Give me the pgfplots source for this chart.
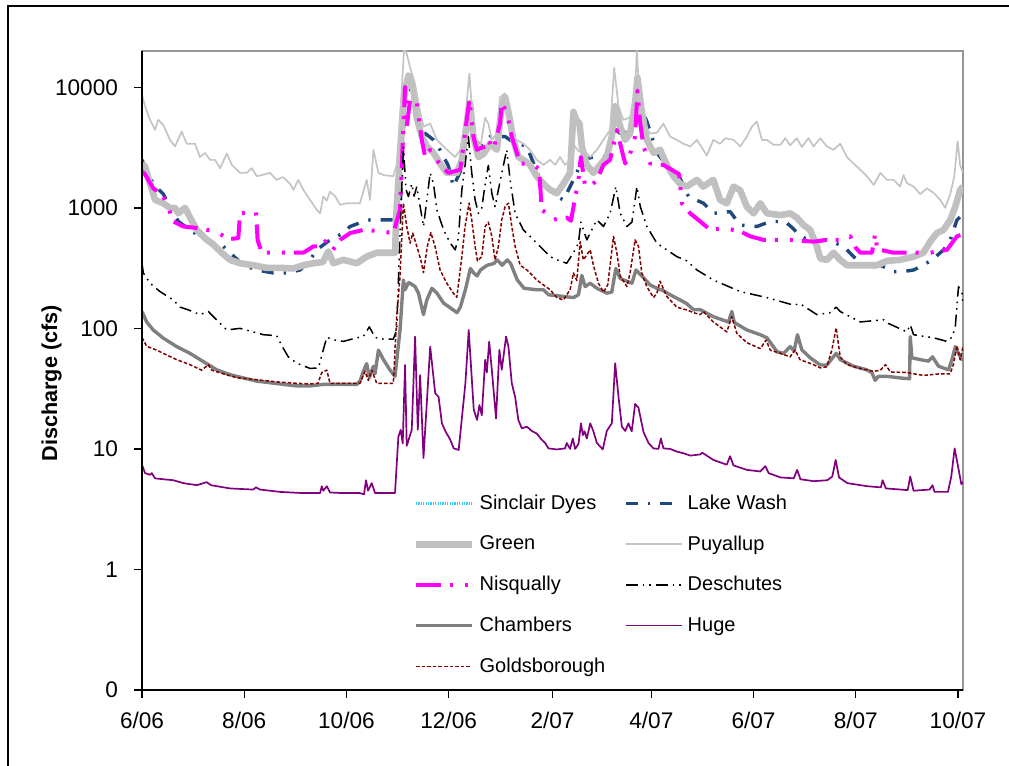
\documentclass[border=0pt]{standalone}
\usepackage{pgfplots}
\pgfplotsset{compat=1.18}
\usepackage{fontspec}
\setmainfont{Liberation Sans}

\definecolor{lakewash}{RGB}{31,73,125}
\definecolor{greenriver}{RGB}{192,192,192}
\definecolor{puyallup}{RGB}{196,196,196}
\definecolor{nisqually}{RGB}{255,0,255}
\definecolor{chambers}{RGB}{128,128,128}
\definecolor{hugecreek}{RGB}{128,0,128}
\definecolor{goldsborough}{RGB}{128,0,0}
\definecolor{sinclair}{RGB}{51,204,255}
\definecolor{framegray}{RGB}{150,150,150}

\begin{document}
\begin{tikzpicture}
\useasboundingbox (0,0) rectangle (504.5bp,383bp);
% outer chart border
\draw[line width=0.8bp] (4bp,-5bp) -- (4bp,380bp) -- (510bp,380bp);
\begin{axis}[
  at={(71bp,38bp)}, anchor=south west,
  scale only axis, width=410.5bp, height=319.5bp,
  ymode=log, xmin=0, xmax=490, ymin=0.1, ymax=20000,
  ytick={0.1,1,10,100,1000,10000},
  yticklabels={0,1,10,100,1000,10000},
  yminorticks=false,
  xtick={0,61,122,183,245,304,365,426,487},
  xticklabels={6/06,8/06,10/06,12/06,2/07,4/07,6/07,8/07,10/07},
  tick align=outside, xtick pos=bottom, ytick pos=left,
  major tick length=4bp,
  tick style={black, line width=0.7bp},
  axis line style={draw=framegray, line width=0.8bp},
  ticklabel style={font=\fontsize{11.3bp}{13bp}\selectfont},
  xticklabel style={yshift=-3.5bp},
  yticklabel style={xshift=-4.5bp},
  ylabel={Discharge (cfs)},
  ylabel style={font=\fontsize{10.8bp}{13bp}\selectfont\bfseries,
    at={(axis description cs:-0.11,0.48)}, anchor=center},
  every axis plot/.append style={line join=round},
  legend columns=2,
  legend cell align=left,
  legend image code/.code={\draw[#1] (0bp,0bp) -- (28bp,0bp);},
  legend style={at={(axis description cs:0.3292,0.306)}, anchor=north west,
    draw=none, fill=none, inner sep=0pt,
    font=\fontsize{10bp}{12bp}\selectfont,
    row sep=11.6bp,
    nodes={inner xsep=0bp, inner ysep=0bp},
    /tikz/every odd column/.append style={column sep=2.2bp},
    /tikz/every even column/.append style={column sep=9.3bp}},
  after end axis/.code={
    \draw[black, line width=0.8bp] (rel axis cs:0,1) -- (rel axis cs:0,0) -- (rel axis cs:1,0);
  },
]

\addlegendimage{sinclair, line width=1.2bp, dash pattern=on 0.6bp off 0.6bp}
\addlegendentry{Sinclair Dyes}

% Lake Washington
\addplot[lakewash, line width=1.7bp, dash pattern=on 6bp off 5bp on 1.2bp off 5bp] coordinates {
(0,2500) (6.7,1580) (12.7,1300) (21.7,770) (28.7,656) (34.6,580) (40.6,509) (46.6,509)
(52.5,424) (60.5,334) (68.5,305) (78.4,288) (86.4,288) (94.3,305) (100.3,370) (104.3,448)
(112.2,542) (120.2,617) (124.2,700) (132.1,770) (136.1,794) (150,794) (154,962) (157,9000)
(159,11000) (162,8000) (164.8,5000) (169,4140) (174,3660) (178,3000) (182.9,2220) (185.8,1500)
(190,2000) (193.8,4500) (195.8,6500) (198.8,3700) (202,3230) (207.8,3900) (216.7,3900)
(220.4,3600) (229.7,3230) (237.6,1706) (243.6,1400) (249.5,1200) (251.5,1164) (255.5,1500)
(259.5,1950) (262.5,2500) (269.4,2640) (272.4,2130) (277.4,2860) (282.4,4500) (285.4,4140)
(291.3,4300) (295.5,8000) (301.3,5200) (304.3,3900) (307.3,2860) (315.2,2070) (319.2,2000)
(326.2,1240) (335.2,1090) (341,900) (351,930) (357,720) (367,700) (374.9,770) (383.9,770)
(388.8,670) (392.8,580) (400.8,524) (408.8,542) (418.7,479) (424.7,394) (432.6,314)
(440.7,334) (448.6,296) (454.4,296) (460.5,305) (466.4,334) (472.5,380) (478.4,448)
(482.4,542) (486.4,794) (489.4,870) (490,880)
};
\addlegendentry{Lake Wash}

% Green River
\addplot[greenriver, line width=3.3bp] coordinates {
(0,2330) (1.8,2200) (4.8,1580) (7.8,1164) (12.7,1090) (16.7,1000) (19.7,1000) (21.7,900)
(25.7,1000) (28.7,830) (32.7,656) (37.6,560) (42.6,495) (47.6,424) (52.5,370) (58.5,347)
(66.4,334) (74.4,318) (82.4,318) (90.3,314) (96.3,334) (102.3,347) (108,355) (111.2,434)
(114.2,347) (120.2,370) (128.2,347) (134.1,394) (140.1,424) (146.1,424) (151,424) (152,1020)
(154,2640) (156,6960) (157,9400) (159,12500) (162,9400) (164,5600) (167,3900) (170,3230)
(174,2860) (177.9,2330) (181.9,1950) (187.9,1950) (190.9,2500) (193.8,5000) (195.8,7400)
(197.8,3900) (200.8,2640) (203.8,2800) (207.8,3400) (211.8,3030) (214.7,6960) (216.7,8270)
(218.7,6240) (221.7,3660) (224.6,2640) (227.6,2500) (231.6,2270) (235.6,1830) (239.6,1580)
(243.6,1410) (247.6,1320) (251.5,1580) (255.5,1950) (257.5,6240) (259.1,5370) (261.1,5000)
(262.5,3230) (265.5,2270) (269.4,1950) (273.4,2270) (277.4,2640) (280.4,3900) (282.4,6960)
(285.4,4720) (288.4,3660) (291.3,4140) (294.3,7400) (295.7,12000) (298.3,6240) (301.3,3660)
(305.3,2860) (309.2,3030) (313.2,2270) (317.2,1830) (321.2,1580) (325.2,1500) (331.2,1706)
(335,1500) (341,1706) (345,1164) (349,1090) (353.1,1500) (357,1400) (361,1020) (365,900)
(369,1090) (373,900) (381,870) (386.8,900) (390.8,830) (394.8,720) (398.8,656) (402.8,479)
(404.8,380) (408.8,370) (412.7,424) (416.7,370) (420.7,334) (426.7,334) (438.6,334)
(444.6,363) (452.5,370) (460.5,394) (466.4,424) (470.4,524) (474.4,617) (478.4,656)
(482.4,794) (485.4,1020) (488.3,1410) (490,1500)
};
\addlegendentry{Green}

% Puyallup River
\addplot[puyallup, line width=0.85bp] coordinates {
(0,8660) (1.8,6960) (4.8,5370) (7.8,4440) (9.7,5370) (12.7,4880) (16.7,3660) (19.7,3230)
(23.7,4300) (26.7,3400) (31.6,3400) (34.6,2640) (37.6,2850) (40.6,2500) (43.6,2500)
(46.6,2130) (50.6,2820) (53.6,2270) (58.5,1950) (62.5,1950) (65.5,2130) (68.5,1830)
(72.2,1880) (76.4,1950) (80.4,1706) (84.2,1800) (88.4,1580) (90.3,1410) (93.3,1706)
(96.3,1410) (100.3,1164) (104.3,962) (106.3,900) (108.2,1240) (110.3,1150) (112.2,1360)
(115.2,1250) (118.2,1060) (122.2,1090) (130.1,1090) (134.1,1706) (136.1,1164) (138.1,3030)
(141.1,1950) (144.1,1870) (150,1830) (152,2270) (155,9400) (156.4,21000) (158,19000)
(160,14600) (163,10600) (166,6240) (168,4720) (172,5000) (176,3660) (180,3230) (184,2860)
(186.9,2640) (190,3030) (192.8,5370) (195.4,13000) (196.8,6960) (198.8,3900) (202,3230)
(204.8,5600) (206.7,5000) (208.8,3660) (211.8,4140) (213.7,8270) (216.7,8930) (218.7,5000)
(220.7,3660) (223.7,3660) (227.6,3400) (231.6,3030) (235.6,2500) (239.6,2270) (243.6,2500)
(246.6,2270) (249.5,2640) (252.5,2270) (255.5,2500) (258.5,3230) (260.5,2950) (263.4,3030)
(267.5,2640) (271.5,3030) (275.4,3660) (279.4,4440) (281.8,14500) (284.4,6960) (287.3,5370)
(291.3,5600) (294.3,9400) (295.3,20000) (297.3,6960) (299.3,5000) (303.3,4140) (307.3,4200)
(311.2,5000) (315.2,3900) (319.2,3660) (323.2,3400) (327.2,3230) (331.2,3660) (337.1,2720)
(341,3660) (345,3400) (348.1,3780) (353.1,3660) (357,3230) (361,3900) (364,4720) (367,5200)
(370,3660) (373,3660) (376.9,3340) (381,3340) (383.9,3780) (386.8,3300) (390.8,3780)
(393.8,3200) (397.8,3780) (400.8,3230) (404.8,3780) (408.8,3230) (412.7,3030) (416.7,3400)
(420.7,2640) (424.7,2330) (428.7,2070) (432.6,1830) (436.7,1550) (440.7,1950) (444.6,1706)
(448.6,1706) (452.5,1500) (454.5,1870) (456.5,1600) (460.5,1500) (464.5,1300) (468.5,1450)
(472.5,1330) (476.4,1164) (479.4,1000) (482.4,1300) (484.8,1830) (486.8,3560) (488.3,2250)
(490,1950)
};
\addlegendentry{Puyallup}

% Nisqually River
\addplot[nisqually, line width=2bp, dash pattern=on 12.5bp off 4.5bp on 1.5bp off 6bp on 1.5bp off 4.5bp] coordinates {
(0,2000) (1.8,1900) (6.7,1450) (11.8,1300) (14.7,1100) (18.7,770) (24.7,700) (32.7,680)
(40.6,650) (45.6,620) (51.5,550) (57.5,560) (58.5,900) (68,930) (69,540) (71.5,424)
(82.4,424) (96.3,424) (102.3,479) (106.3,479) (110.3,542) (114,450) (118.2,542) (124.2,617)
(132.1,656) (142.1,640) (150,617) (154,962) (157,10100) (158,4720) (160,7870) (164,7400)
(167,3660) (169,2640) (172,3030) (178,2270) (182.9,1950) (190,2070) (193.8,5370)
(195.4,7870) (197.8,3900) (199.8,3030) (204.8,3230) (206.7,3660) (209.7,3030) (213.7,5000)
(214.7,7400) (217.7,6240) (220.7,3900) (225.7,2330) (229.7,2330) (233.6,2270) (237,2100)
(238.6,962) (241.6,900) (245.6,794) (249.5,830) (253.5,830) (256,780) (260.5,1706)
(261.9,2640) (264.5,1500) (267.5,1500) (271.5,1700) (275.4,2270) (279.4,2500) (283.4,4440)
(285.4,3400) (288.4,2330) (291.3,2800) (294.3,3900) (295.7,9400) (297.4,5000) (299.3,3230)
(303.3,2330) (311.2,2270) (319.2,1950) (320.6,1900) (322.2,1090) (327.2,900) (333.2,770)
(339.2,656) (347.1,680) (357,640) (363,580) (371,542) (386.8,542) (400.8,524) (408.8,542)
(418.7,542) (422.8,580) (425.8,470) (428.7,424) (435.7,424) (437.6,617) (438.8,450)
(440.7,448) (448.6,424) (470.4,424) (480.4,448) (486.4,580) (489.4,600) (490,600)
};
\addlegendentry{Nisqually}

% Deschutes River
\addplot[black, line width=0.75bp, dash pattern=on 6bp off 2.5bp on 0.8bp off 2.5bp on 0.8bp off 2.5bp] coordinates {
(0,347) (0.8,288) (4.8,237) (10.7,202) (18.7,172) (22.7,150) (27.6,142.5) (34.6,130)
(39.6,138) (42.6,125) (50.6,97) (58.5,100) (64.5,95) (72.4,88.6) (80.4,87) (83.4,72)
(87.3,58) (92.4,51.4) (100.3,46.5) (105.3,47) (108.2,66.4) (110.3,84.4) (114.2,80.4)
(120.2,78) (128.2,83.5) (132.1,85.5) (135.7,103) (139.1,84) (144.1,81.5) (150,81.5)
(152,97) (154,600) (156,3224) (157.6,1410) (159,1240) (161,1580) (162.4,1250) (164,1500)
(166,1025) (168,700) (170,1164) (172,1950) (174,1580) (176,962) (180,656) (184,509)
(186.9,448) (188.8,560) (190.9,1410) (192.8,2250) (194.8,3900) (196.8,1950) (198.8,1164)
(200.8,900) (202.8,1000) (204.8,1580) (206.7,2250) (208.8,1320) (210.7,1023) (212.7,1410)
(215.7,2250) (217.7,3030) (219.7,1706) (222.7,900) (227.6,656) (231.6,580) (235.6,509)
(239.6,448) (243.6,394) (247.6,370) (253.5,347) (257.5,424) (260.5,509) (261.9,760)
(265.5,542) (269.4,700) (271.5,794) (275.4,700) (279.4,900) (282.8,1500) (285.4,900)
(289.4,700) (292.4,760) (295.4,1500) (297.4,1023) (301.3,700) (307.3,509) (313.2,448)
(319.2,394) (325.2,363) (331.2,305) (341,252) (357,202) (373,180) (388.8,156) (392.8,160)
(402.8,130) (410.7,135) (414.3,150) (416.7,138) (428.7,113) (442.6,118) (445.4,110)
(456.5,93.5) (458.5,107) (460.5,88.6) (472.5,83.5) (480.4,78) (483.6,85) (485.4,103)
(487.3,222) (489.4,196) (490,156)
};
\addlegendentry{Deschutes}

% Chambers Creek
\addplot[chambers, line width=1.7bp] coordinates {
(0,138) (2.8,113) (6.7,97) (12.7,83) (20.7,70.6) (28.7,62) (36.6,53) (44.6,45.3) (52.5,41.3)
(60.5,38.8) (68.5,36.5) (76.4,35.4) (84.4,34.3) (92.4,33.3) (100.3,33.3) (108.2,34.3)
(128.2,34.3) (130.1,36.5) (132.1,44) (134.1,51) (135.7,39) (138.1,48.5) (139.1,42) (141.1,66)
(144.1,55) (148.1,45) (151,40) (154,97) (156,252) (157,209) (159,240) (160,237) (163,222)
(165,196) (168,130) (170,172) (173,215) (176,196) (180,162) (184,148) (188,135) (190,150)
(193,209) (196,314) (198,288) (200,272) (202,305) (206,334) (210,345) (212,370) (215,334)
(218,370) (220,345) (224,252) (228,215) (235.6,209) (239.6,209) (242.6,190) (251.5,184)
(257.5,180) (260.5,190) (262.5,275) (264.5,222) (267.5,237) (271.5,215) (277.4,196)
(280.4,200) (282.8,314) (285.4,259) (289.4,246) (292.4,237) (294.8,305) (298.3,272)
(303.3,229) (307.3,215) (311.2,205) (315.2,190) (321.2,172) (325.2,160) (329.2,142.5)
(333.2,143) (341,125) (350,113) (352,138) (353.5,112) (361,97) (369,88.6) (373,83.5)
(379,64) (383,62) (386.8,70.6) (389.2,65) (391.2,88.6) (393.8,66.4) (398.8,57) (404.8,49.7)
(408.8,49.7) (414.3,62) (416.7,55) (424.7,48.5) (432.6,45.3) (435.6,43) (437.6,37) (439.4,40)
(444.6,40) (452.5,38.8) (458.1,38.2) (458.5,85.5) (459.5,57) (464.5,55) (469.4,53.5)
(471.8,58) (475.4,48.5) (481.4,45.3) (483.4,55) (485.4,70.6) (487.3,62) (489.4,55) (490,58)
};
\addlegendentry{Chambers}

% Huge Creek
\addplot[hugecreek, line width=0.85bp] coordinates {
(0,7.4) (1.8,6.3) (4.8,6.1) (5.8,6.3) (7.8,5.7) (12.7,5.6) (18.7,5.5) (24.7,5.2) (32.7,5.0)
(38.6,5.3) (41.2,5.0) (52.5,4.7) (66.4,4.6) (68,4.8) (70.4,4.6) (82.4,4.4) (96.3,4.3)
(106.3,4.3) (107.3,4.9) (108.2,4.5) (110.3,4.9) (112.2,4.35) (120,4.3) (130,4.3) (132.5,4.2)
(133.7,5.5) (134.9,4.5) (137.1,5.2) (139.1,4.3) (151,4.3) (153,12.6) (154.4,14.4) (155.6,11.1)
(157,49.7) (158,10.6) (161,14.4) (163,85.5) (164.6,14.4) (166,41) (168,8.4) (172,70.6)
(175,28.9) (177,27) (179,16.3) (181,14.1) (184,11.9) (186,10.1) (189,9.8) (191,18.5) (193,35)
(195,97) (198,21.1) (200,17.4) (201.4,23.1) (202.8,19) (204.8,54.9) (205.8,43) (207.2,77.6)
(208.8,45) (211.3,17.9) (213.3,66.4) (214.7,45.3) (217.3,85.5) (218.7,70.6) (220.7,35)
(222.7,27) (224.6,17.4) (226.7,14.8) (229.7,15.3) (232.6,14.1) (235.6,13.4) (238.6,11.9)
(240.6,11.2) (242.6,10.1) (247.6,9.9) (252.5,10.1) (253.5,11.2) (255.5,10) (257.1,12.2)
(258.5,10) (260.5,11) (262,16.3) (263.1,13) (264.1,14) (265.5,12.2) (267.5,16.3) (269.4,14)
(271.5,11.2) (275,9.9) (277.4,14.1) (280.4,16.3) (282.4,51.4) (284.4,27) (286.4,15.3)
(288.4,14.1) (290.3,16.3) (292.3,14) (294.3,23.6) (296.3,22) (299.3,13.8) (302.3,11.2)
(305.3,10.1) (308.2,10) (309.7,12.2) (311.2,10.1) (315.2,10) (319.2,9.5) (323.2,9.2)
(327.2,8.8) (333.2,9.0) (334.4,9.3) (341,8.1) (349,7.4) (351,8.7) (353,7.3) (361,6.7)
(369,6.5) (372,7.2) (374,6.3) (381,5.8) (389,5.7) (391,6.7) (393,5.6) (401,5.4) (409,5.5)
(412,5.9) (414,8.1) (416,5.8) (421,5.2) (433,4.9) (441,4.8) (442,5.5) (444,4.7) (453,4.6)
(457,4.55) (458.5,5.9) (460.5,4.5) (470,4.6) (471.8,5.0) (473,4.4) (481,4.4) (483,5.9)
(485,10.1) (487,7.2) (489,5.1) (490,5.3)
};
\addlegendentry{Huge}

% Goldsborough Creek
\addplot[goldsborough, line width=0.75bp, dash pattern=on 1.8bp off 1bp] coordinates {
(0,84) (2.8,71) (8.8,66) (12.7,62) (20.7,55) (28.7,50) (35.6,45) (39.6,50) (41.6,45) (48.5,42)
(56.5,39) (64.5,38) (72.4,37) (80.4,36) (92.4,35) (100.3,34.6) (105,35) (107.3,43) (110.3,45)
(112.2,35) (120.2,35) (130.1,35) (133.1,44) (135.1,37) (137.1,45) (140.1,35) (150,35) (152,125)
(154,270) (156,1094) (158,700) (160,509) (161.6,617) (164,479) (166.4,370) (168,290)
(170.3,479) (172.4,623) (174.9,479) (177.9,305) (181.9,237) (185.8,196) (187.9,181)
(190.9,394) (192.8,699) (195.2,1094) (196.8,794) (198.8,479) (200.2,363) (202.8,394)
(204.8,699) (206.7,760) (208.8,580) (210.7,370) (212.7,479) (214.7,794) (216.7,1023)
(218.7,1094) (220.7,699) (222.7,479) (225.7,334) (229.7,305) (231.6,288) (235.6,252)
(239.6,229) (243.6,209) (247.6,180) (251.5,172) (255.5,209) (257.5,288) (259.5,250)
(261.5,524) (263.4,370) (267.5,448) (269.4,334) (272.4,237) (275.4,200) (278,230)
(281.4,580) (283.4,424) (285.4,272) (289.4,222) (291.3,288) (294.3,542) (296.3,479)
(298.3,288) (301.3,222) (305.3,180) (307.3,196) (309.2,246) (313.2,184) (319.2,150)
(325.2,142) (329.2,135) (333.2,130) (335,138) (341,113) (349,93.5) (352,125) (355,91)
(361,76) (369,68) (372.5,80) (374.9,66) (381,62) (386.8,58) (389.8,66) (392.7,55) (400.8,50)
(404.8,47) (408.7,48) (411.7,66) (414.3,101) (416.7,58) (420.7,50) (428.7,46.5) (436.7,44)
(440.7,45) (443.7,50) (446.7,43.5) (456.5,43) (466.4,40.7) (476.4,42) (482.4,42) (484.4,51)
(486.4,72) (488.3,55) (490,70)
};
\addlegendentry{Goldsborough}

\end{axis}
\end{tikzpicture}
\end{document}
